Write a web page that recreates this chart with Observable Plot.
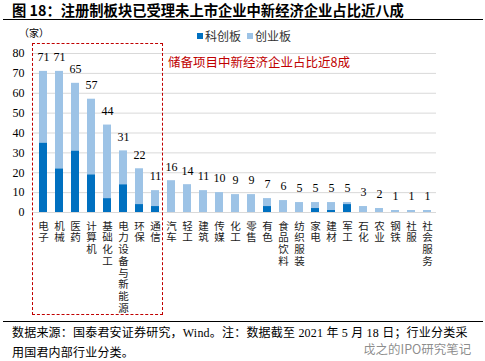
<!DOCTYPE html>
<html><head><meta charset="utf-8">
<script src="https://cdn.jsdelivr.net/npm/d3@7"></script>
<script src="https://cdn.jsdelivr.net/npm/@observablehq/plot@0.6"></script>
<style>
body{margin:0;background:#fff;}
#wrap{position:relative;width:485px;height:361px;overflow:hidden;font-family:"Liberation Serif","Noto Sans CJK SC",serif;color:#000;}
.abs{position:absolute;white-space:nowrap;}
</style></head><body><div id="wrap"></div>
<script>
const categories = ["电子","机械","医药","计算机","基础化工","电力设备与新能源","环保","通信","汽车","轻工","建筑","传媒","化工","零售","有色","食品饮料","纺织服装","家电","建材","军工","石化","农业","钢铁","社服","社会服务"];
const kcbValues = [35,22,31,19,7,14,4,3,0,0,0,0,0,0,3,0,0,2,1,4,0,0,0,0,0];
const cybValues = [36,49,34,38,37,17,18,8,16,14,11,10,9,9,4,6,5,3,4,1,3,2,1,1,1];
const boards = ["科创板","创业板"];
const boardColors = ["#0070C0","#9DC3E6"];
const yTicks = [0,10,20,30,40,50,60,70,80];

const rows = [];
boards.forEach((b,i)=>categories.forEach((c,j)=>rows.push({cat:c,board:b,value:i===0?kcbValues[j]:cybValues[j]})));
const totals = categories.map((c,j)=>({cat:c,total:kcbValues[j]+cybValues[j]}));

const FONT = '"Liberation Serif","Noto Sans CJK SC",serif';
const SVG_TOP = 22;
const chart = Plot.plot({
  width:485, height:300, marginTop:31, marginBottom:110, marginLeft:33, marginRight:49,
  style:{fontFamily:FONT, background:"transparent", overflow:"visible"},
  x:{domain:categories, paddingInner:0.5, paddingOuter:0.25, axis:null},
  y:{domain:[0,80], label:null},
  color:{domain:boards, range:boardColors},
  marks:[
    Plot.gridY(yTicks,{stroke:"#d9d9d9",strokeOpacity:1}),
    Plot.axisY(yTicks,{tickSize:0,tickPadding:9,fontSize:12,label:null}),
    Plot.barY(rows,{x:"cat",y:"value",fill:"board"}),
    Plot.text(totals,{x:"cat",y:"total",text:d=>String(d.total),dy:-14,fontSize:12}),
    Plot.text(categories,{x:d=>d,text:d=>d,frameAnchor:"bottom",textAnchor:"start",dy:8,fontSize:10.5,fill:"#222",fontFamily:'"Noto Sans CJK SC",sans-serif'})
  ]
});
// make the category labels vertical (one text per label)
const textGroups = d3.select(chart).selectAll('g[aria-label="text"]').nodes();
d3.select(textGroups[textGroups.length-1]).selectAll("text")
  .attr("dy", null)
  .attr("writing-mode","tb")
  .style("writing-mode","vertical-rl")
  .style("text-orientation","upright")
  .style("letter-spacing","1.2px");
chart.style.position="absolute"; chart.style.left="0px"; chart.style.top=SVG_TOP+"px";
const wrap = document.getElementById("wrap");
wrap.appendChild(chart);

function add(html, css){const d=document.createElement("div");d.className="abs";d.innerHTML=html;Object.assign(d.style,css);wrap.appendChild(d);return d;}
// title
add("图 18：注册制板块已受理未上市企业中新经济企业占比近八成",{left:"12px",top:"2px",fontSize:"14.3px",lineHeight:"16px",fontWeight:"bold",fontFamily:'"Noto Sans CJK SC",sans-serif'});
add("",{left:"3px",top:"19px",width:"480px",height:"0",borderTop:"1.2px solid #000"});
// unit
add("（家）",{left:"19px",top:"26px",fontSize:"10px",lineHeight:"14px",fontFamily:'"Noto Sans CJK SC",sans-serif'});
// legend
boards.forEach((b,i)=>{
  const x = 197 + i*50;
  add("",{left:x+"px",top:"33px",width:"6px",height:"6px",background:boardColors[i]});
  add(b,{left:(x+8)+"px",top:"29px",fontSize:"12px",lineHeight:"14px",color:"#333",fontFamily:'"Noto Sans CJK SC",sans-serif'});
});
// dashed box
const xs = chart.scale("x");
const step = xs.step, bw = xs.bandwidth;
const c0 = xs.apply(categories[0]) + bw/2;
const c7 = xs.apply(categories[7]) + bw/2;
const c8 = xs.apply(categories[8]) + bw/2;
const left = c0 - step*0.7, right = (c7+c8)/2;
add("",{left:left+"px",top:"43px",width:(right-left)+"px",height:"272px",border:"1.5px dashed #C00000",boxSizing:"border-box"});
add("储备项目中新经济企业占比近8成",{left:"168px",top:"55px",fontSize:"12.5px",lineHeight:"14px",color:"#C00000",fontFamily:'"Noto Sans CJK SC",sans-serif'});
// bottom rule and source
add("",{left:"3px",top:"321px",width:"480px",height:"0",borderTop:"1.2px solid #000"});
add("数据来源：国泰君安证券研究，Wind。注：数据截至 2021 年 5 月 18 日；行业分类采",{left:"12px",top:"325px",fontSize:"12px",lineHeight:"16px",letterSpacing:"0.2px"});
add("用国君内部行业分类。",{left:"12px",top:"345px",fontSize:"12px",lineHeight:"16px",letterSpacing:"0.2px"});
add("戉之的IPO研究笔记",{left:"363px",top:"342px",fontSize:"12.5px",lineHeight:"14px",color:"rgba(90,90,90,0.7)",fontFamily:'"Noto Sans CJK SC",sans-serif'});
</script>
</body></html>
